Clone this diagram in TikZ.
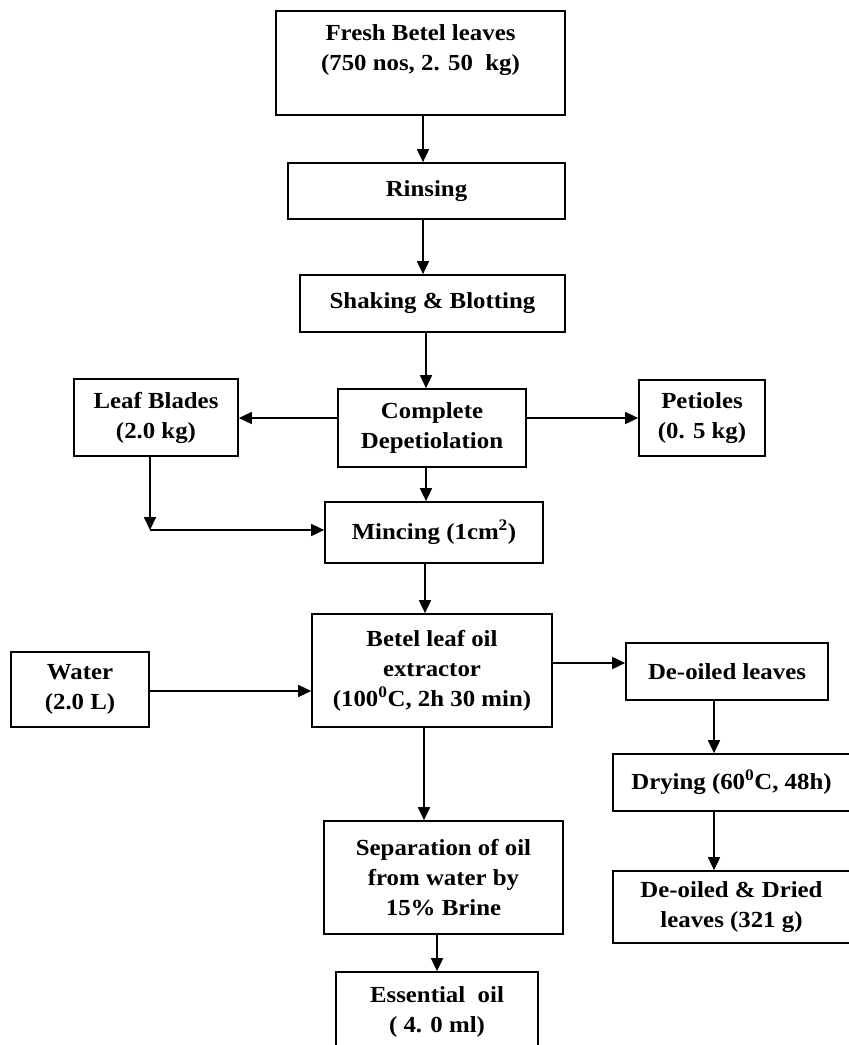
\documentclass[tikz,border=0pt]{standalone}
\usepackage{fontspec}
\setmainfont{Liberation Serif}[FakeStretch=1.08]
\usetikzlibrary{arrows.meta}

\begin{document}
\begin{tikzpicture}[x=1pt,y=-1pt,
    box/.style={draw, line width=1.7pt, align=center, inner sep=0pt,
      font=\bfseries\fontsize{23}{30}\selectfont},
    arr/.style={line width=1.7pt, -{Triangle[length=13pt,width=12pt]}}]
  \useasboundingbox (0,0) rectangle (849,1045);
  % main column
  \node[box, minimum width=289, minimum height=104] (fresh) at (420.5,63) {Fresh Betel leaves\\(750 nos, 2. 50~~kg)\\~};
  \node[box, minimum width=277, minimum height=56] (rinse) at (426.5,191) {Rinsing};
  \node[box, minimum width=265, minimum height=57] (shake) at (432.5,303.5) {Shaking \& Blotting};
  \node[box, minimum width=188, minimum height=78] (depet) at (432,428) {Complete\\Depetiolation};
  \node[box, minimum width=164, minimum height=77] (blades) at (156,417.5) {Leaf Blades\\(2.0 kg)};
  \node[box, minimum width=126, minimum height=76] (petiole) at (702,418) {Petioles\\(0. 5 kg)};
  \node[box, minimum width=218, minimum height=61] (mince) at (434,532.5) {Mincing (1cm\textsuperscript{2})};
  \node[box, minimum width=240, minimum height=113] (extract) at (432,670.5) {Betel leaf oil\\extractor\\(100\textsuperscript{0}C, 2h 30 min)};
  \node[box, minimum width=138, minimum height=75] (water) at (80,689.5) {Water\\(2.0 L)};
  \node[box, minimum width=239, minimum height=113] (sep) at (443.5,877.5) {Separation of oil\\from water by\\15\% Brine};
  \node[box, minimum width=202, minimum height=80] (oil) at (437,1012) {Essential~~oil\\( 4. 0 ml)};
  % right column
  \node[box, minimum width=202, minimum height=57] (deoil) at (727,671.5) {De-oiled leaves};
  \node[box, minimum width=237, minimum height=57] (dry) at (731.5,782.5) {Drying (60\textsuperscript{0}C, 48h)};
  \node[box, minimum width=237, minimum height=72] (dried) at (731.5,907) {De-oiled \& Dried\\leaves (321 g)};

  \draw[arr] (fresh.south -| 423,0) -- (rinse.north -| 423,0);
  \draw[arr] (rinse.south -| 423,0) -- (shake.north -| 423,0);
  \draw[arr] (shake.south -| 426,0) -- (depet.north -| 426,0);
  \draw[arr] (depet.west |- 0,418) -- (blades.east |- 0,418);
  \draw[arr] (depet.east |- 0,418) -- (petiole.west |- 0,418);
  \draw[arr] (depet.south -| 426,0) -- (mince.north -| 426,0);
  \draw[arr] (blades.south -| 150,0) -- (150,530) coordinate (bend);
  \draw[arr] (bend) -- (mince.west |- bend);
  \draw[arr] (mince.south -| 425,0) -- (extract.north -| 425,0);
  \draw[arr] (water.east |- 0,691) -- (extract.west |- 0,691);
  \draw[arr] (extract.east |- 0,663) -- (deoil.west |- 0,663);
  \draw[arr] (extract.south -| 424,0) -- (sep.north -| 424,0);
  \draw[arr] (sep.south -| 437,0) -- (oil.north -| 437,0);
  \draw[arr] (deoil.south -| 714,0) -- (dry.north -| 714,0);
  \draw[arr] (dry.south -| 714,0) -- (dried.north -| 714,0);
\end{tikzpicture}
\end{document}
